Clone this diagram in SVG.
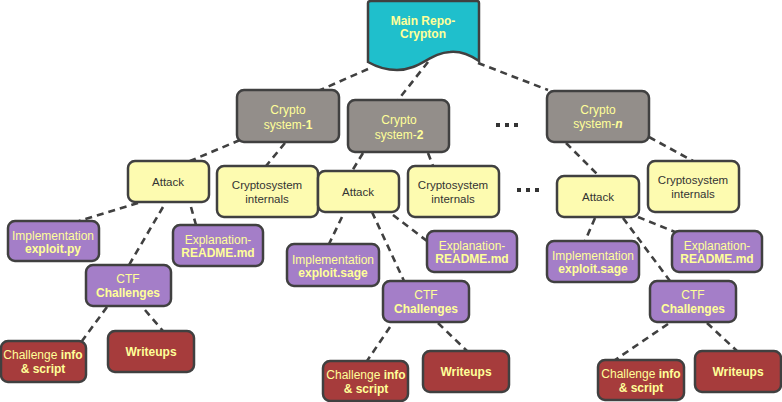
<svg xmlns="http://www.w3.org/2000/svg" width="782" height="402" viewBox="0 0 782 402">
<style>
text{font-family:"Liberation Sans",Arial,sans-serif;font-size:12px;text-anchor:middle}
.b{font-weight:bold}
.lt{fill:#ffff99}
.dk{fill:#333333;font-size:11.5px}
.box{stroke:#404040;stroke-width:2.5}
.main{fill:#1fbfcc}
.gray{fill:#938e8a}
.yel{fill:#fdfbb0}
.pur{fill:#a47ec8}
.red{fill:#a63c3c}
#connectors line{stroke:#404040;stroke-width:2.6;stroke-dasharray:7,5;fill:none}
.dots{fill:#333333}
</style>
<rect width="782" height="402" fill="#ffffff"/>
<g id="connectors">
<line x1="368" y1="69" x2="318" y2="91"/>
<line x1="428" y1="62" x2="398" y2="100"/>
<line x1="478" y1="63" x2="548" y2="90"/>
<line x1="240" y1="140" x2="190" y2="161"/>
<line x1="285" y1="143" x2="266" y2="166"/>
<line x1="138" y1="203" x2="79" y2="221"/>
<line x1="163" y1="207" x2="129" y2="265"/>
<line x1="191" y1="207" x2="196" y2="225"/>
<line x1="107" y1="307" x2="82" y2="341"/>
<line x1="145" y1="310" x2="163" y2="331"/>
<line x1="363" y1="153" x2="352" y2="171"/>
<line x1="428" y1="153" x2="433" y2="166"/>
<line x1="342" y1="217" x2="329" y2="244"/>
<line x1="372" y1="212" x2="404" y2="281"/>
<line x1="393" y1="215" x2="427" y2="241"/>
<line x1="390" y1="327" x2="367" y2="361"/>
<line x1="438" y1="323" x2="467" y2="351"/>
<line x1="566" y1="143" x2="599" y2="176"/>
<line x1="649" y1="137" x2="693" y2="161"/>
<line x1="595" y1="218" x2="585" y2="241"/>
<line x1="623" y1="218" x2="670" y2="281"/>
<line x1="638" y1="217" x2="675" y2="232"/>
<line x1="668" y1="324" x2="615" y2="360"/>
<line x1="707" y1="323" x2="737" y2="351"/>
</g>
<g id="main">
<path class="box main" d="M371,1 H477 Q479,1 479,3 V61 C470,55 460,51 450,52 C430,53 420,70 397,70 C385,70 375,66 368,62 V3 Q368,1 371,1 Z"/>
<text class="b lt" x="423" y="25">Main Repo-</text>
<text class="b lt" x="423" y="38">Crypton</text>
</g>
<g id="cs1">
<rect class="box gray" x="237" y="90" width="102" height="52" rx="7"/>
<text class="lt" x="288" y="114">Crypto</text>
<text class="lt" x="288" y="129">system-<tspan class="b">1</tspan></text>
</g>
<g id="cs2">
<rect class="box gray" x="348" y="100" width="101" height="52" rx="7"/>
<text class="lt" x="399" y="124">Crypto</text>
<text class="lt" x="399" y="139">system-<tspan class="b">2</tspan></text>
</g>
<g id="csn">
<rect class="box gray" x="547" y="91" width="102" height="51" rx="7"/>
<text class="lt" x="598" y="114">Crypto</text>
<text class="lt" x="598" y="128">system-<tspan class="b" font-style="italic">n</tspan></text>
</g>
<g class="dots">
<rect x="496" y="123" width="4" height="4"/><rect x="505" y="123" width="4" height="4"/><rect x="514" y="123" width="4" height="4"/>
<rect x="517" y="188" width="4" height="4"/><rect x="526" y="188" width="4" height="4"/><rect x="535" y="188" width="4" height="4"/>
</g>
<g id="attack1">
<rect class="box yel" x="128" y="161" width="81" height="41" rx="7"/>
<text class="dk" x="168" y="186">Attack</text>
</g>
<g id="internals1">
<rect class="box yel" x="217" y="166" width="101" height="51" rx="7"/>
<text class="dk" x="267" y="189">Cryptosystem</text>
<text class="dk" x="267" y="203">internals</text>
</g>
<g id="impl1">
<rect class="box pur" x="8" y="221" width="91" height="40" rx="7"/>
<text class="lt" x="53" y="240">Implementation</text>
<text class="b lt" x="53" y="253">exploit.py</text>
</g>
<g id="expl1">
<rect class="box pur" x="173" y="225" width="90" height="41" rx="7"/>
<text class="lt" x="218" y="244">Explanation-</text>
<text class="b lt" x="218" y="257">README.md</text>
</g>
<g id="ctf1">
<rect class="box pur" x="86" y="265" width="85" height="41" rx="7"/>
<text class="lt" x="128" y="283">CTF</text>
<text class="b lt" x="128" y="297">Challenges</text>
</g>
<g id="chal1">
<rect class="box red" x="1" y="341" width="85" height="41" rx="7"/>
<text class="lt" x="43" y="359">Challenge <tspan class="b">info</tspan></text>
<text class="b lt" x="43" y="373">&amp; script</text>
</g>
<g id="write1">
<rect class="box red" x="108" y="331" width="86" height="41" rx="7"/>
<text class="b lt" x="151" y="356">Writeups</text>
</g>
<g id="attack2">
<rect class="box yel" x="318" y="171" width="81" height="41" rx="7"/>
<text class="dk" x="358" y="196">Attack</text>
</g>
<g id="internals2">
<rect class="box yel" x="408" y="166" width="91" height="51" rx="7"/>
<text class="dk" x="453" y="189">Cryptosystem</text>
<text class="dk" x="453" y="203">internals</text>
</g>
<g id="impl2">
<rect class="box pur" x="287" y="244" width="92" height="42" rx="7"/>
<text class="lt" x="333" y="264">Implementation</text>
<text class="b lt" x="333" y="277">exploit.sage</text>
</g>
<g id="expl2">
<rect class="box pur" x="427" y="231" width="90" height="41" rx="7"/>
<text class="lt" x="472" y="250">Explanation-</text>
<text class="b lt" x="472" y="263">README.md</text>
</g>
<g id="ctf2">
<rect class="box pur" x="383" y="281" width="86" height="41" rx="7"/>
<text class="lt" x="426" y="299">CTF</text>
<text class="b lt" x="426" y="313">Challenges</text>
</g>
<g id="chal2">
<rect class="box red" x="323" y="361" width="85" height="40" rx="7"/>
<text class="lt" x="366" y="379">Challenge <tspan class="b">info</tspan></text>
<text class="b lt" x="366" y="393">&amp; script</text>
</g>
<g id="write2">
<rect class="box red" x="423" y="351" width="86" height="41" rx="7"/>
<text class="b lt" x="466" y="376">Writeups</text>
</g>
<g id="attack3">
<rect class="box yel" x="557" y="176" width="82" height="41" rx="7"/>
<text class="dk" x="598" y="201">Attack</text>
</g>
<g id="internals3">
<rect class="box yel" x="648" y="161" width="91" height="51" rx="7"/>
<text class="dk" x="693" y="184">Cryptosystem</text>
<text class="dk" x="693" y="198">internals</text>
</g>
<g id="impl3">
<rect class="box pur" x="547" y="241" width="92" height="41" rx="7"/>
<text class="lt" x="593" y="260">Implementation</text>
<text class="b lt" x="593" y="273">exploit.sage</text>
</g>
<g id="expl3">
<rect class="box pur" x="672" y="231" width="90" height="41" rx="7"/>
<text class="lt" x="717" y="250">Explanation-</text>
<text class="b lt" x="717" y="263">README.md</text>
</g>
<g id="ctf3">
<rect class="box pur" x="650" y="281" width="86" height="41" rx="7"/>
<text class="lt" x="693" y="299">CTF</text>
<text class="b lt" x="693" y="313">Challenges</text>
</g>
<g id="chal3">
<rect class="box red" x="598" y="360" width="86" height="40" rx="7"/>
<text class="lt" x="641" y="378">Challenge <tspan class="b">info</tspan></text>
<text class="b lt" x="641" y="392">&amp; script</text>
</g>
<g id="write3">
<rect class="box red" x="695" y="351" width="86" height="41" rx="7"/>
<text class="b lt" x="738" y="376">Writeups</text>
</g>
</svg>
